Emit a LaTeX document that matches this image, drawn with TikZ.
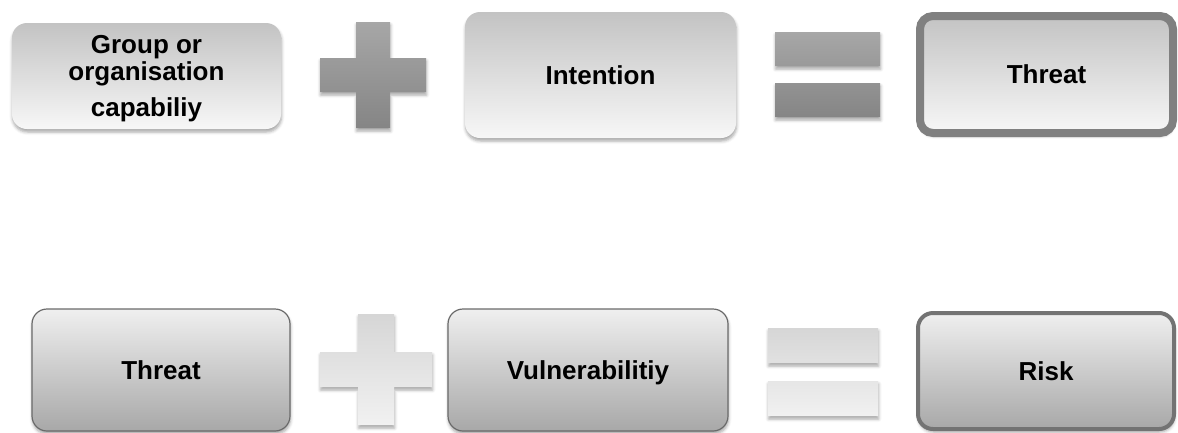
\documentclass[tikz,border=0pt]{standalone}
\usepackage{fontspec}
\setmainfont{Liberation Sans}
\usetikzlibrary{shadows.blur}
\definecolor{tbtop}{HTML}{C3C3C3}
\definecolor{tbbot}{HTML}{F7F7F7}
\definecolor{bbtop}{HTML}{EFEFEF}
\definecolor{bbbot}{HTML}{A8A8A8}
\definecolor{tsigntop}{HTML}{A7A7A7}
\definecolor{tsignbot}{HTML}{858585}
\definecolor{bsigntop}{HTML}{D6D6D6}
\definecolor{bsignbot}{HTML}{F1F1F1}
\definecolor{thickedge}{HTML}{808080}
\definecolor{thinedge}{HTML}{6A6A6A}
\tikzset{
  softshadow/.style={blur shadow={shadow xshift=0.5pt, shadow yshift=-3pt, shadow blur radius=3pt, shadow opacity=35}},
  boxbase/.style={rectangle, rounded corners=15pt, inner sep=0pt, outer sep=0pt, align=center,
    font=\fontsize{26}{27}\selectfont\bfseries, text depth=0pt, softshadow},
  topbox/.style={boxbase, top color=tbtop, bottom color=tbbot, draw=none},
  topresult/.style={boxbase, top color=tbtop, bottom color=tbbot, draw=thickedge, line width=8pt, rounded corners=13pt},
  botbox/.style={boxbase, top color=bbtop, bottom color=bbbot, draw=thinedge, line width=1.2pt},
  botresult/.style={boxbase, top color=bbtop, bottom color=bbbot, draw=thickedge!90!black, line width=4pt},
  topsign/.style={top color=tsigntop, bottom color=tsignbot, draw=none, softshadow},
  botsign/.style={top color=bsigntop, bottom color=bsignbot, draw=none, softshadow},
}
\begin{document}
\begin{tikzpicture}[x=1pt, y=-1pt]
\useasboundingbox (0,0) rectangle (1178,432);
% ---- top row ----
\node[topbox, minimum width=269pt, minimum height=106pt] (cap) at (146.5,76)
  {Group or\\organisation\\[9pt]capabiliy};
\draw[topsign] (356,22) -- (390,22) -- (390,58) -- (426,58) -- (426,92) -- (390,92)
  -- (390,128) -- (356,128) -- (356,92) -- (320,92) -- (320,58) -- (356,58) -- cycle;
\node[topbox, minimum width=271pt, minimum height=126pt] (int) at (600.5,75) {Intention};
\draw[topsign] (775,32) rectangle (880,66) (775,83) rectangle (880,117);
\node[topresult, minimum width=253pt, minimum height=117pt] (thr1) at (1046.5,74.5) {Threat};
% ---- bottom row ----
\node[botbox, minimum width=258pt, minimum height=122pt] (thr2) at (161,370) {Threat};
\draw[botsign] (358,314) -- (394,314) -- (394,352) -- (432,352) -- (432,387) -- (394,387)
  -- (394,425) -- (358,425) -- (358,387) -- (320,387) -- (320,352) -- (358,352) -- cycle;
\node[botbox, minimum width=280pt, minimum height=122pt] (vul) at (588,370) {Vulnerabilitiy};
\draw[botsign] (768,328) rectangle (878,363) (768,381) rectangle (878,416);
\node[botresult, minimum width=256pt, minimum height=116pt] (risk) at (1046,371) {Risk};
\end{tikzpicture}
\end{document}
